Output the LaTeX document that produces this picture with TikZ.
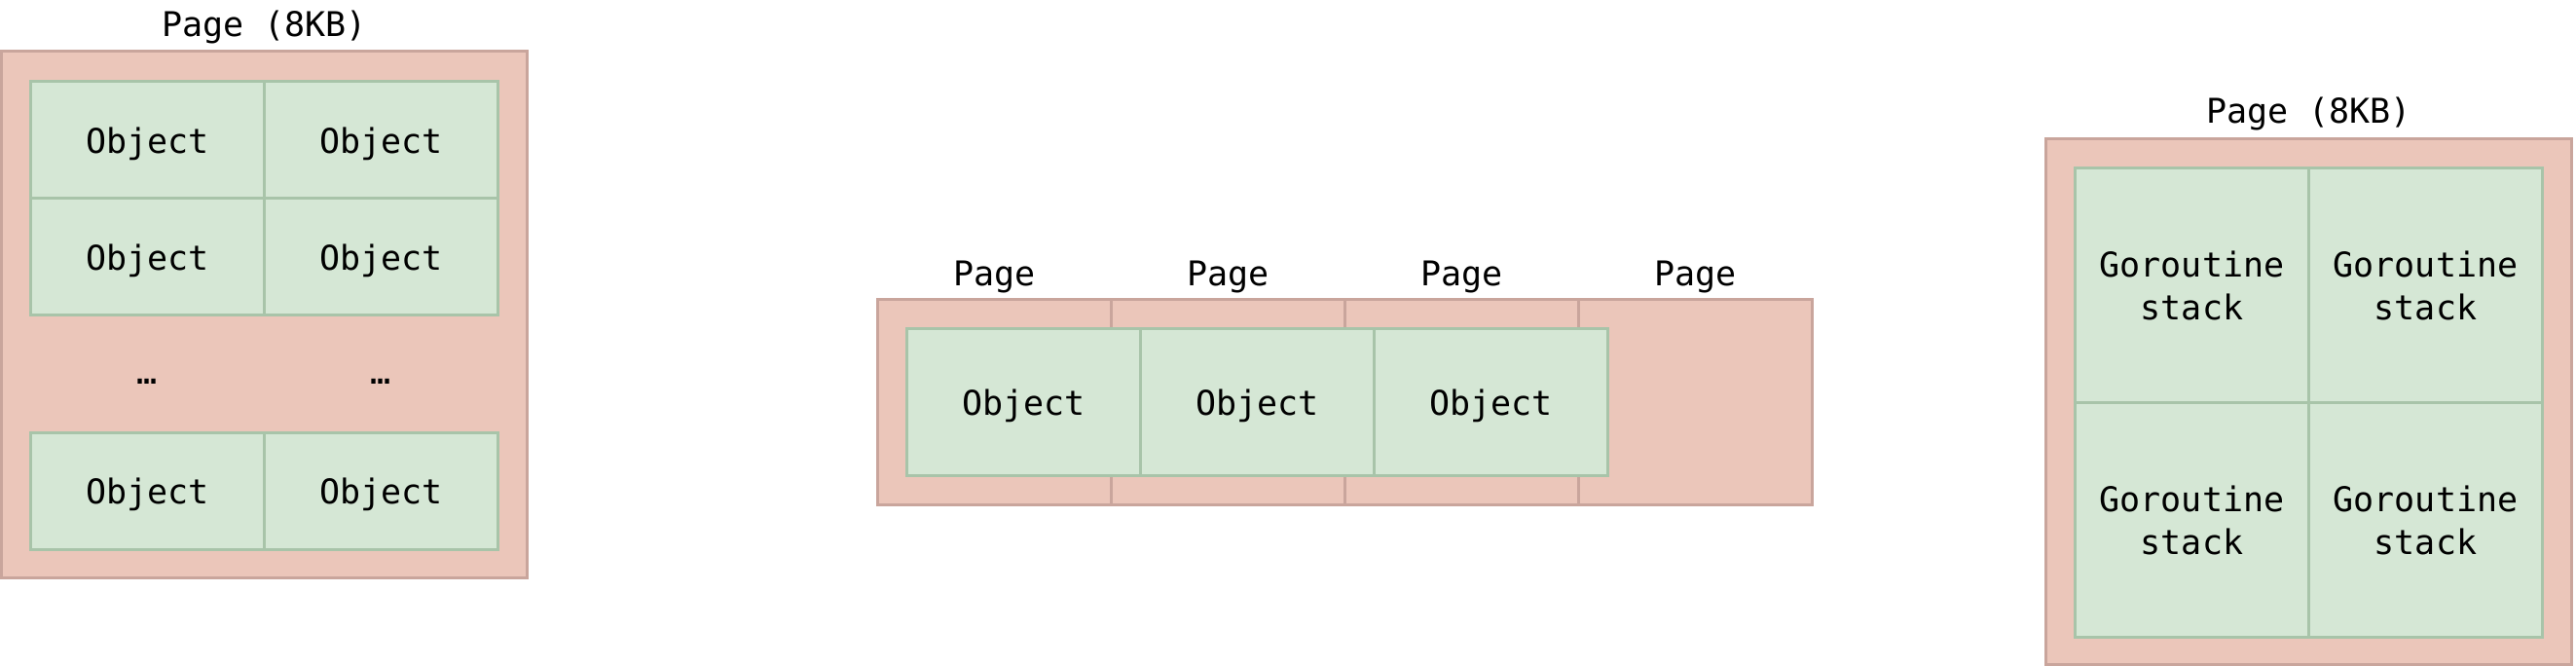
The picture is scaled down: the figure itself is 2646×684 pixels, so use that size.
\documentclass[tikz,border=0pt]{standalone}
\usepackage{fontspec}
\setmonofont{DejaVu Sans Mono}
\usetikzlibrary{positioning}
\definecolor{pagefill}{HTML}{EBC6BA}
\definecolor{pageline}{HTML}{C9A59C}
\definecolor{objfill}{HTML}{D5E7D5}
\definecolor{objline}{HTML}{A8C4A9}
\tikzset{
	pagebox/.style={draw=pageline, fill=pagefill, line width=3pt, inner sep=0pt, outer sep=0pt},
	objbox/.style={draw=objline, fill=objfill, line width=3pt, inner sep=0pt, outer sep=0pt,
		align=center, font=\ttfamily\fontsize{35}{44}\selectfont},
	objcell/.style={objbox, text depth=0pt},
	pagelbl/.style={inner sep=0pt, outer sep=0pt, font=\ttfamily\fontsize{35}{44}\selectfont}
}

\begin{document}
\begin{tikzpicture}[x=1pt, y=-1pt]
		%%%%% START %%%%%
		\useasboundingbox (0, 0) rectangle (2646, 684);
		
		% objects in one 8KB page
		\node[pagebox, minimum width=540pt, minimum height=540pt] (lpage) at (271.5, 323) {};
		\node[pagelbl, above=8pt of lpage] (ltitle) {Page (8KB)};
		
		\node[objcell, minimum width=240pt, minimum height=120pt] (lobj11) at (151.5, 144) {Object};
		\node[objcell, minimum width=240pt, minimum height=120pt] (lobj12) at (391.5, 144) {Object};
		\node[objcell, minimum width=240pt, minimum height=120pt] (lobj21) at (151.5, 264) {Object};
		\node[objcell, minimum width=240pt, minimum height=120pt] (lobj22) at (391.5, 264) {Object};
		
		\node[pagelbl] (ldots1) at (151.5, 392) {…};
		\node[pagelbl] (ldots2) at (391.5, 392) {…};
		
		\node[objcell, minimum width=240pt, minimum height=120pt] (lobj31) at (151.5, 504) {Object};
		\node[objcell, minimum width=240pt, minimum height=120pt] (lobj32) at (391.5, 504) {Object};
		
		% objects spanning several pages
		\foreach \i/\x in {1/1021.5, 2/1261.5, 3/1501.5, 4/1741.5} {
			\node[pagebox, minimum width=240pt, minimum height=210pt] (mpage\i) at (\x, 413) {};
			\node[pagelbl, above=7pt of mpage\i] (mtitle\i) {Page};
		}
		\foreach \i/\x in {1/1051.5, 2/1291.5, 3/1531.5} {
			\node[objcell, minimum width=240pt, minimum height=150pt] (mobj\i) at (\x, 413) {Object};
		}
		
		% goroutine stacks in one 8KB page
		\node[pagebox, minimum width=540pt, minimum height=540pt] (rpage) at (2371.5, 412.5) {};
		\node[pagelbl, above=8pt of rpage] (rtitle) {Page (8KB)};
		
		\node[objbox, minimum width=240pt, minimum height=241pt] (rstack11) at (2251.5, 293) {Goroutine\\stack};
		\node[objbox, minimum width=240pt, minimum height=241pt] (rstack12) at (2491.5, 293) {Goroutine\\stack};
		\node[objbox, minimum width=240pt, minimum height=241pt] (rstack21) at (2251.5, 534) {Goroutine\\stack};
		\node[objbox, minimum width=240pt, minimum height=241pt] (rstack22) at (2491.5, 534) {Goroutine\\stack};
		
		%%%%% END %%%%%
\end{tikzpicture}
\end{document}
